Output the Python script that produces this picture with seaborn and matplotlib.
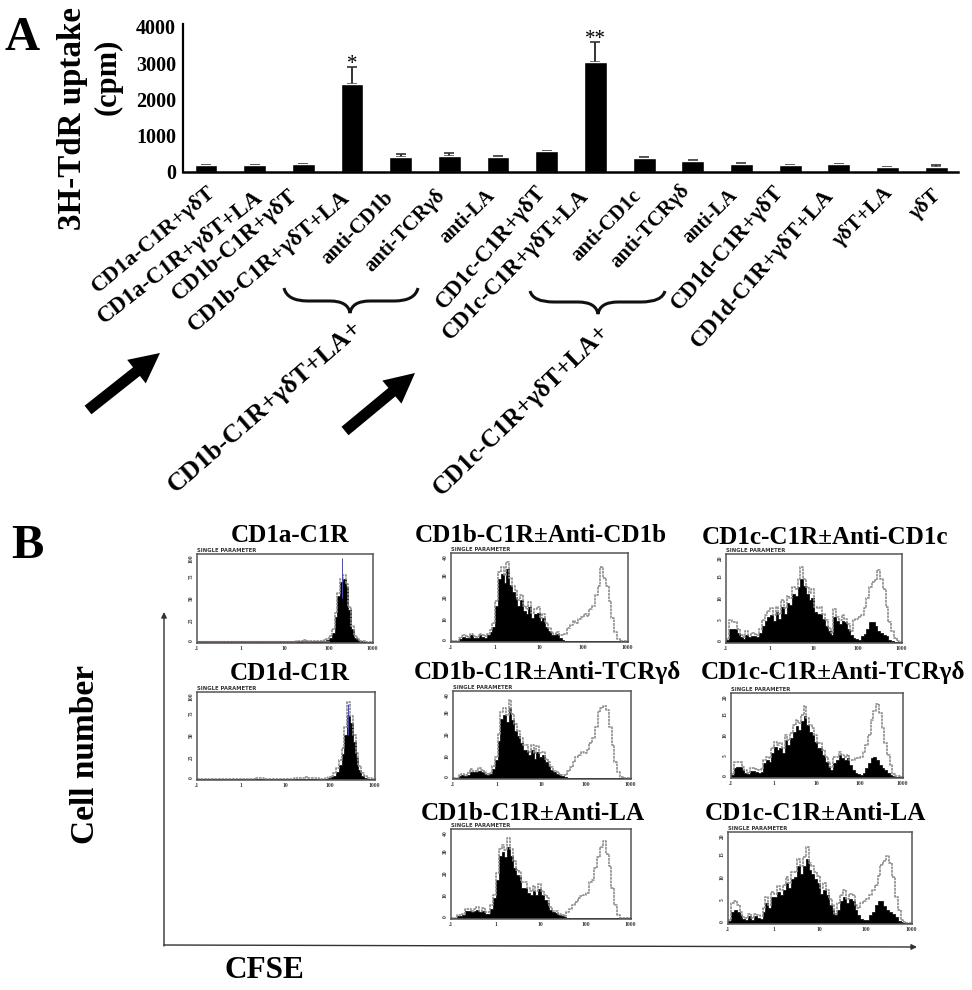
import numpy as np
import matplotlib
matplotlib.use("Agg")
import matplotlib.pyplot as plt
from matplotlib.path import Path
from matplotlib.patches import PathPatch
from matplotlib.transforms import ScaledTranslation
import seaborn as sns

sns.set_style('white')
plt.rcParams['font.family'] = ['Liberation Serif', 'DejaVu Serif']
plt.rcParams['font.weight'] = 'bold'
plt.rcParams['text.color'] = 'black'
plt.rcParams['xtick.color'] = 'black'
plt.rcParams['ytick.color'] = 'black'

W, H = 972, 990

# panel A
group_labels = ['CD1a-C1R+γδT', 'CD1a-C1R+γδT+LA', 'CD1b-C1R+γδT', 'CD1b-C1R+γδT+LA',
                'anti-CD1b', 'anti-TCRγδ', 'anti-LA', 'CD1c-C1R+γδT', 'CD1c-C1R+γδT+LA',
                'anti-CD1c', 'anti-TCRγδ', 'anti-LA', 'CD1d-C1R+γδT', 'CD1d-C1R+γδT+LA',
                'γδT+LA', 'γδT']
uptake = [170, 170, 200, 2430, 390, 420, 390, 560, 3030, 360, 300, 220, 170, 200, 120, 120]
uptake_err = [20, 10, 20, 467, 90, 100, 30, 20, 553, 30, 20, 10, 20, 20, 10, 60]
stars = {3: '*', 8: '**'}
yticks_a = [0, 1000, 2000, 3000, 4000]

# panel B, heights in % of the frame, 64 channels from .1 to 1000
cd1a_black = [0, 0, 0, 0, 0, 0, 0, 0, 0, 0, 0, 0, 0, 0, 0, 0,
              0, 0, 0, 0, 0, 0, 0, 0, 0, 0, 0, 0, 0, 0, 0, 0,
              0, 0, 0, 0, 0, 0, 1, 1, 1, 1, 0, 0, 0, 1, 1, 2,
              4, 10, 28, 52, 68, 72, 62, 36, 14, 4, 2, 1, 0, 0, 0, 0]
cd1a_line = [0, 0, 0, 0, 0, 0, 0, 0, 0, 0, 0, 0, 0, 0, 0, 0,
             0, 0, 0, 0, 0, 0, 0, 0, 0, 0, 0, 0, 0, 0, 0, 0,
             0, 0, 0, 0, 1, 1, 1, 2, 1, 1, 1, 1, 1, 1, 2, 3,
             7, 15, 33, 56, 72, 76, 66, 40, 18, 7, 3, 1, 1, 0, 0, 0]
cd1d_black = [0, 0, 0, 0, 0, 0, 0, 0, 0, 0, 0, 0, 0, 0, 0, 0,
              0, 0, 0, 0, 0, 0, 0, 0, 0, 0, 0, 0, 0, 0, 0, 0,
              0, 0, 0, 0, 0, 0, 0, 0, 0, 0, 0, 0, 0, 0, 0, 1,
              2, 3, 8, 16, 28, 50, 74, 64, 42, 24, 10, 3, 1, 0, 0, 0]
cd1d_line = [0, 0, 0, 0, 0, 0, 0, 0, 0, 0, 0, 0, 0, 0, 0, 0,
             0, 0, 0, 0, 0, 1, 1, 1, 0, 0, 0, 0, 0, 0, 0, 0,
             0, 0, 0, 1, 1, 1, 1, 2, 1, 1, 1, 1, 0, 0, 1, 2,
             3, 6, 12, 21, 35, 60, 88, 72, 50, 30, 15, 6, 3, 1, 1, 0]

b1_black = [0, 0, 0, 2, 4, 3, 3, 6, 3, 3, 6, 4, 3, 6, 10, 16,
            40, 70, 76, 66, 82, 64, 56, 50, 40, 46, 34, 30, 38, 26, 30, 32,
            22, 26, 16, 11, 7, 6, 8, 3, 1, 0, 0, 0, 0, 0, 0, 0,
            0, 0, 0, 0, 0, 0, 0, 0, 0, 0, 0, 0, 0, 0, 0, 0]
b1_line = [0, 0, 0, 3, 6, 5, 4, 8, 5, 4, 8, 6, 5, 8, 12, 20,
           45, 78, 84, 75, 90, 72, 62, 58, 46, 52, 40, 36, 44, 32, 36, 38,
           26, 30, 20, 14, 10, 8, 10, 6, 6, 8, 14, 18, 22, 20, 25, 27,
           30, 28, 36, 40, 52, 62, 84, 72, 62, 45, 26, 10, 2, 0, 0, 0]
b2_black = [0, 0, 2, 3, 2, 3, 7, 6, 6, 8, 7, 4, 3, 4, 10, 20,
            42, 68, 72, 64, 80, 66, 54, 48, 40, 32, 32, 26, 32, 22, 30, 24,
            26, 18, 14, 9, 6, 4, 3, 2, 1, 0, 0, 0, 0, 0, 0, 0,
            0, 0, 0, 0, 0, 0, 0, 0, 0, 0, 0, 0, 0, 0, 0, 0]
b2_line = [0, 0, 3, 4, 3, 5, 10, 8, 8, 11, 9, 6, 4, 5, 14, 24,
           50, 76, 80, 72, 90, 74, 62, 54, 46, 38, 38, 30, 38, 28, 36, 28,
           30, 22, 18, 12, 8, 6, 4, 3, 3, 8, 12, 18, 24, 26, 30, 28,
           32, 40, 46, 58, 76, 80, 83, 78, 58, 38, 18, 6, 1, 0, 0, 0]
b3_black = [0, 0, 2, 2, 3, 7, 7, 6, 7, 9, 6, 8, 4, 4, 10, 22,
            42, 70, 74, 68, 80, 70, 56, 48, 46, 34, 34, 28, 26, 30, 26, 32,
            26, 20, 16, 9, 6, 5, 3, 2, 1, 0, 0, 0, 0, 0, 0, 0,
            0, 0, 0, 0, 0, 0, 0, 0, 0, 0, 0, 0, 0, 0, 0, 0]
b3_line = [0, 0, 3, 3, 4, 10, 10, 8, 10, 12, 8, 11, 6, 6, 14, 26,
           50, 78, 82, 76, 90, 78, 64, 54, 52, 40, 40, 34, 30, 36, 30, 38,
           30, 26, 22, 12, 8, 7, 4, 3, 2, 6, 10, 14, 18, 22, 24, 26,
           28, 40, 42, 56, 68, 80, 87, 72, 58, 34, 14, 3, 0, 0, 0, 0]

c1_black = [2, 14, 14, 14, 10, 5, 3, 8, 5, 6, 6, 5, 10, 18, 24, 28,
            30, 24, 34, 26, 40, 32, 44, 42, 54, 52, 62, 72, 64, 54, 48, 50,
            34, 32, 32, 26, 18, 12, 8, 28, 24, 20, 24, 22, 14, 8, 4, 3,
            2, 6, 9, 14, 22, 22, 18, 12, 10, 8, 6, 2, 1, 0, 0, 0]
c1_line = [3, 25, 22, 22, 15, 8, 5, 12, 8, 10, 9, 8, 14, 25, 30, 35,
           38, 30, 40, 32, 48, 38, 52, 50, 62, 60, 72, 85, 72, 62, 55, 60,
           40, 38, 40, 32, 25, 16, 10, 37, 28, 25, 30, 26, 20, 12, 25, 26,
           28, 30, 38, 50, 62, 68, 70, 82, 72, 60, 40, 22, 12, 4, 1, 0]
c2_black = [2, 10, 12, 12, 8, 5, 3, 7, 7, 6, 5, 6, 16, 20, 18, 28,
            36, 32, 34, 28, 44, 38, 46, 54, 60, 56, 66, 72, 62, 54, 50, 42,
            34, 34, 26, 18, 12, 8, 16, 20, 26, 22, 20, 22, 14, 8, 4, 3,
            2, 5, 10, 16, 22, 24, 20, 14, 10, 8, 5, 2, 1, 0, 0, 0]
c2_line = [3, 18, 18, 18, 12, 8, 5, 10, 10, 9, 8, 9, 20, 24, 22, 34,
           42, 38, 40, 34, 50, 44, 52, 62, 68, 64, 74, 84, 70, 62, 58, 50,
           40, 40, 32, 24, 18, 12, 24, 24, 30, 26, 24, 26, 20, 20, 22, 22,
           24, 30, 38, 50, 68, 78, 87, 76, 58, 40, 26, 14, 3, 1, 1, 0]
c3_black = [2, 12, 14, 12, 8, 4, 3, 7, 3, 7, 5, 4, 12, 22, 16, 28,
            28, 34, 30, 36, 44, 38, 48, 50, 62, 54, 62, 70, 58, 54, 48, 44,
            32, 36, 30, 20, 14, 8, 14, 24, 28, 22, 26, 24, 14, 8, 4, 3,
            3, 8, 12, 20, 24, 24, 18, 14, 12, 10, 6, 2, 1, 0, 0, 0]
c3_line = [3, 22, 24, 20, 12, 6, 5, 10, 5, 10, 8, 7, 16, 28, 20, 34,
           32, 40, 36, 42, 50, 44, 56, 56, 70, 62, 72, 84, 66, 62, 56, 52,
           38, 44, 36, 26, 20, 10, 22, 30, 36, 26, 32, 30, 20, 16, 22, 24,
           26, 30, 36, 42, 52, 64, 68, 73, 66, 50, 28, 14, 3, 1, 0, 0]

cd1_counts = ['0', '25', '50', '75', '100']
b_counts = ['0', '10', '20', '30', '40']
c_counts = ['0', '5', '10', '15', '20']
channel_ticks = [-1, 0, 1, 2, 3]
channel_labels = ['.1', '1', '10', '100', '1000']


def px_axes(fig, x0, y0, x1, y1, **kw):
    return fig.add_axes([x0 / W, 1 - y1 / H, (x1 - x0) / W, (y1 - y0) / H], **kw)


def histogram(fig, box, black, line, counts, title, title_x, title_y, peak=None, baseline=None):
    ax = px_axes(fig, *box)
    edges = np.linspace(-1, 3.02, len(black) + 1)
    centers = (edges[:-1] + edges[1:]) / 2
    # seaborn compares bins to 'auto' when weights are given, so it has to be a list here
    sns.histplot(x=centers, weights=line, bins=list(edges), element='step', fill=False,
                 color='#8f8f8f', linewidth=1.2, linestyle=(0, (1.6, 0.5)), ax=ax)
    sns.histplot(x=centers, weights=black, bins=list(edges), element='step', fill=True,
                 color='black', alpha=1, linewidth=0.5, ax=ax)
    if peak is not None:
        ax.vlines(peak[0], 50, peak[1], color='#4a4ab0', linewidth=0.7, zorder=5)
    if baseline is not None:
        ax.axhline(0.3, color=baseline, linewidth=0.8, xmax=0.75, zorder=5)
    ax.set_xlim(-1, 3.02)
    ax.set_ylim(-1.5, 100)
    ax.set_xlabel('')
    ax.set_ylabel('')
    ax.set_xticks(channel_ticks, labels=channel_labels, fontsize=4, color='#333333')
    ax.set_yticks([1, 25, 50, 75, 95], labels=counts, fontsize=4, color='#333333', rotation=90, va='center')
    ax.tick_params(length=0, pad=2.2)
    for s in ax.spines.values():
        s.set_color('#555555')
        s.set_linewidth(1.1)
    ax.text(0.0, 1.015, 'SINGLE PARAMETER', transform=ax.transAxes, fontsize=3.8,
            family='DejaVu Sans', color='#333333', va='bottom')
    fig.text(title_x / W, 1 - title_y / H, title, fontsize=18.1, ha='center', va='center')
    return ax


def brace(ax, x0, xt, x1, top, mid, tip):
    verts = [(x0, top), (x0 + 3, mid), (x0 + 24, mid), (xt - 20, mid), (xt - 2, mid), (xt, tip),
             (xt + 2, mid), (xt + 20, mid), (x1 - 24, mid), (x1 - 3, mid), (x1, top)]
    codes = [Path.MOVETO, Path.CURVE3, Path.CURVE3, Path.LINETO, Path.CURVE3, Path.CURVE3,
             Path.CURVE3, Path.CURVE3, Path.LINETO, Path.CURVE3, Path.CURVE3]
    ax.add_patch(PathPatch(Path(verts, codes), fill=False, edgecolor='#111111', linewidth=2.2))


fig = plt.figure(figsize=(W / 100, H / 100), dpi=100, facecolor='white')

# bar chart
ax = px_axes(fig, 183, 24, 958, 171.5)
xpos = np.arange(len(uptake))
sns.barplot(x=xpos, y=uptake, color='black', width=0.47, errorbar=None, saturation=1, ax=ax)
ax.errorbar(xpos, uptake, yerr=[np.zeros(len(uptake)), uptake_err], fmt='none', ecolor='#333333',
            elinewidth=1.4, capsize=3.5, capthick=1.2, zorder=0.5)
for i, s in stars.items():
    ax.text(i, uptake[i] + uptake_err[i] - 200, s, ha='center', va='bottom', fontsize=15, fontweight='normal')
ax.set_xlim(-0.473, 15.45)
ax.set_ylim(0, 4083)
sns.despine(ax=ax)
ax.spines['left'].set_linewidth(1.6)
ax.spines['bottom'].set_linewidth(1.8)
ax.spines['left'].set_color('black')
ax.spines['bottom'].set_color('black')
ax.set_yticks(yticks_a, labels=[str(v) for v in yticks_a], fontsize=14.5)
ax.tick_params(axis='y', length=0, pad=5)
ax.set_xticks(xpos, labels=group_labels, ha='right', va='center', rotation_mode='anchor')
ax.tick_params(axis='x', length=0, pad=0)
# the labels in the figure were placed by hand: each has its own end point, angle and size
label_tips = [(213, 190), (260, 195), (295, 193), (347, 195), (390, 195), (442, 193), (492, 193), (542, 188),
              (585, 193), (638, 193), (687, 187), (735, 193), (780, 188), (830, 192), (890, 190), (938, 193)]
label_rot = [40, 38, 41, 40.5, 45.5, 46, 44, 49, 46, 46, 47, 44.5, 48.5, 48.5, 45, 42.5]
label_size = [16, 16.4, 16.3, 16.5, 15, 15, 14.5, 16.3, 16.3, 15, 15, 14.5, 16.3, 16.4, 15, 15]
for i, lab in enumerate(ax.get_xticklabels()):
    tick_x = 206 + 48.67 * i
    dx = label_tips[i][0] - tick_x
    dy = 171.5 - label_tips[i][1]
    lab.set_rotation(label_rot[i])
    lab.set_fontsize(label_size[i])
    lab.set_transform(lab.get_transform() + ScaledTranslation(dx / 100, dy / 100, fig.dpi_scale_trans))

# everything drawn in image pixels
ov = px_axes(fig, 0, 0, W, H)
ov.set_xlim(0, W)
ov.set_ylim(H, 0)
ov.axis('off')
ov.patch.set_alpha(0)

ov.text(4, 50, 'A', fontsize=35, va='baseline')
ov.text(11, 558, 'B', fontsize=35, va='baseline')
ov.text(72, 118, '3H-TdR uptake', fontsize=23.8, rotation=90, ha='center', va='center')
ov.text(108, 77, '(cpm)', fontsize=22, rotation=90, ha='center', va='center')
ov.text(85, 755, 'Cell number', fontsize=24, rotation=90, ha='center', va='center')
ov.text(264, 970, 'CFSE', fontsize=22.5, ha='center', va='center')
ov.text(265, 407, 'CD1b-C1R+γδT+LA+', fontsize=18.8, rotation=41, ha='center', va='center', rotation_mode='anchor')
ov.text(521, 410, 'CD1c-C1R+γδT+LA+', fontsize=18, rotation=44, ha='center', va='center', rotation_mode='anchor')

brace(ov, 284, 350, 418, 288, 301, 313)
brace(ov, 530, 598, 665, 291, 302, 314)
for x, y, x2, y2 in [(88, 410, 160, 353), (345, 431, 415, 373)]:
    ov.arrow(x, y, x2 - x, y2 - y, width=11, head_width=30, head_length=30,
             length_includes_head=True, color='black', linewidth=0)
ov.annotate('', xy=(164, 612), xytext=(164, 946),
            arrowprops=dict(arrowstyle='-|>', color='#333333', lw=1, mutation_scale=8, shrinkA=0, shrinkB=0))
ov.annotate('', xy=(917, 947), xytext=(164, 945),
            arrowprops=dict(arrowstyle='-|>', color='#333333', lw=1, mutation_scale=8, shrinkA=0, shrinkB=0))

# flow cytometry panels
histogram(fig, (197, 554, 373, 643), cd1a_black, cd1a_line, cd1_counts, 'CD1a-C1R', 290, 535,
          peak=(2.32, 96), baseline='#b05060')
histogram(fig, (197, 692, 375, 780), cd1d_black, cd1d_line, cd1_counts, 'CD1d-C1R', 290, 673, peak=(2.41, 86))
histogram(fig, (451, 553, 628, 642), b1_black, b1_line, b_counts, 'CD1b-C1R±Anti-CD1b', 541, 535)
histogram(fig, (453, 691, 631, 779), b2_black, b2_line, b_counts, 'CD1b-C1R±Anti-TCRγδ', 547, 672)
histogram(fig, (451, 829, 631, 919), b3_black, b3_line, b_counts, 'CD1b-C1R±Anti-LA', 533, 813)
histogram(fig, (726, 554, 902, 643), c1_black, c1_line, c_counts, 'CD1c-C1R±Anti-CD1c', 825, 537)
histogram(fig, (731, 693, 903, 778), c2_black, c2_line, c_counts, 'CD1c-C1R±Anti-TCRγδ', 833, 672)
histogram(fig, (728, 832, 912, 924), c3_black, c3_line, c_counts, 'CD1c-C1R±Anti-LA', 815, 813)

fig.savefig('out.png', dpi=100)
